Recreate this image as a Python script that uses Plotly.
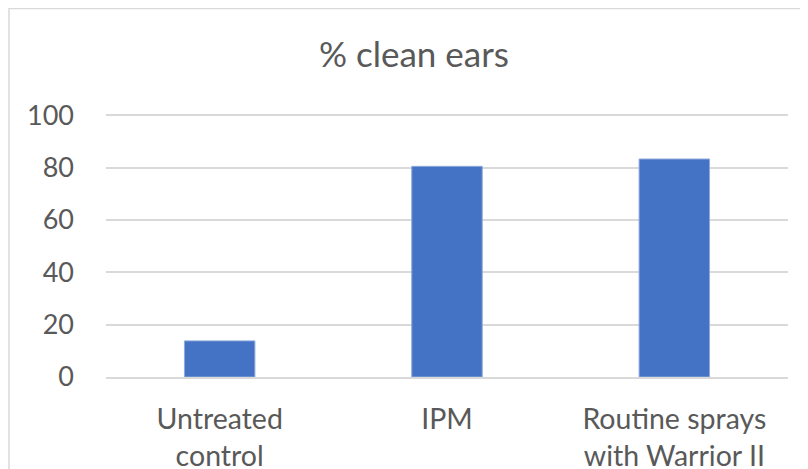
import plotly.graph_objects as go

categories = ["Untreated<br>control", "IPM", "Routine sprays<br>with Warrior II"]
values = [13.8, 80.5, 83.3]
y_ticks = [0, 20, 40, 60, 80, 100]

FONT = "Lato"
GRAY = "#595959"

fig = go.Figure(go.Bar(x=categories, y=values, marker=dict(color="#4472C4", line=dict(color="#8FAADC", width=1)), width=0.31))

fig.update_layout(
    width=808, height=469,
    margin=dict(l=98, r=28, t=106, b=100),
    paper_bgcolor="white", plot_bgcolor="white",
    title=dict(text="% clean ears", x=0.5025, xanchor="center", y=0.90, yanchor="middle",
               font=dict(family=FONT, size=35, color=GRAY)),
    showlegend=False,
)
fig.update_yaxes(range=[0, 100.5], tickvals=y_ticks, showgrid=True, gridcolor="#d9d9d9", gridwidth=1.5,
                 zeroline=False, showline=False, ticklabelstandoff=31, automargin=False,
                 tickfont=dict(family=FONT, size=27, color=GRAY))
fig.update_xaxes(showline=True, linecolor="#d9d9d9", linewidth=1.5, ticklabelstandoff=16, automargin=False,
                 tickfont=dict(family=FONT, size=28.5, color=GRAY))
fig.add_shape(type="rect", xref="paper", yref="paper", x0=-0.1422, x1=1.1, y0=-0.5, y1=1.401,
              line=dict(color="#d9d9d9", width=1.5), fillcolor="rgba(0,0,0,0)", layer="below")
fig.write_html("out.html")
